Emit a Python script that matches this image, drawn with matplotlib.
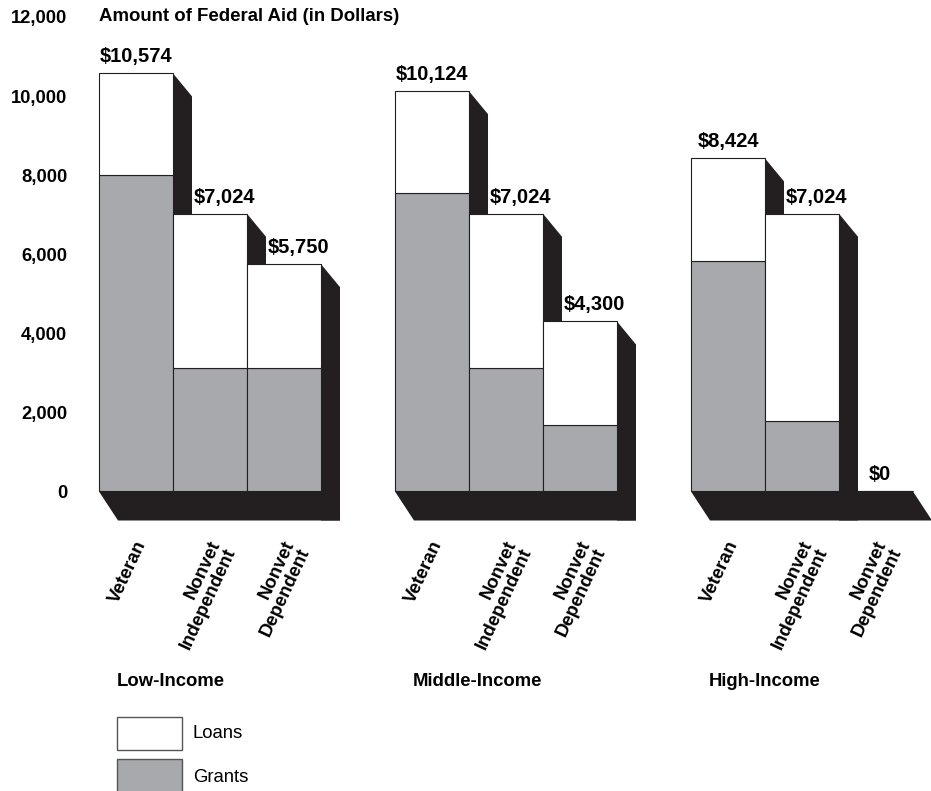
import numpy as np
import matplotlib.pyplot as plt
from matplotlib.patches import Rectangle

plt.rcParams['font.family'] = ['Liberation Sans', 'DejaVu Sans']

# ── data ────────────────────────────────────────────────────────────────
groups = ['Low-Income', 'Middle-Income', 'High-Income']
categories = ['Veteran', 'Nonvet\nIndependent', 'Nonvet\nDependent']
totals = [[10574, 7024, 5750],
          [10124, 7024, 4300],
          [8424, 7024, 0]]
grants = [[8000, 3125, 3125],
          [7550, 3125, 1680],
          [5840, 1790, 0]]
yticks = [0, 2000, 4000, 6000, 8000, 10000, 12000]

BLACK = '#231F20'
GRAY = '#A7A9AC'

# ── layout (1 x-unit = one bar width) ───────────────────────────────────
W, H, DPI = 931, 791, 100
px_x = 74.0                    # pixels per bar width
px_y = (491.5 - 17) / 12000    # pixels per dollar
dx = 19 / px_x                 # depth offset, horizontal
dz_top = 23 / px_y             # depth offset on the bar tops
dz_base = 29 / px_y            # thickness of the floor slab

fig = plt.figure(figsize=(W / DPI, H / DPI), dpi=DPI)
left_px = 72
ax = fig.add_axes([left_px / W, 0, 1 - left_px / W, 1])
ax.set_xlim((left_px - 99) / px_x, (W - 99) / px_x)
ax.set_ylim(-(H - 491.5) / px_y, 491.5 / px_y)
for s in ax.spines.values():
    s.set_visible(False)
ax.set_xticks([])
ax.set_yticks(yticks)
ax.set_yticklabels([f'{v:,}' for v in yticks], fontsize=13.2, fontweight='bold')
ax.tick_params(axis='y', length=0, pad=3.5)

ax.text(0, 12000, 'Amount of Federal Aid (in Dollars)', fontsize=13.4,
        fontweight='bold', ha='left', va='center')

for g, gname in enumerate(groups):
    x0 = 4 * g
    xs = x0 + np.arange(3) + 0.5
    tot = np.array(totals[g])
    gr = np.array(grants[g])
    loans = tot - gr

    # floor slab
    xe = x0 + 3
    ax.fill([x0, xe, xe + dx, x0 + dx], [0, 0, -dz_base, -dz_base],
            color=BLACK, lw=0, zorder=1)
    # right-hand side faces; the last standing bar runs down to the slab bottom
    last = max(i for i in range(3) if tot[i] > 0)
    for i, (x, t) in enumerate(zip(xs, tot)):
        if t <= 0:
            continue
        xr = x + 0.5
        yb = -dz_base if i == last else 0
        ax.fill([xr, xr + dx, xr + dx, xr], [t, t - dz_top, yb, yb],
                color=BLACK, lw=0, zorder=1)

    ax.bar(xs, gr, width=1, color=GRAY, edgecolor=BLACK, lw=0.8, zorder=3)
    ax.bar(xs, loans, bottom=gr, width=1, color='white', edgecolor=BLACK,
           lw=0.8, zorder=3)

    for i, (x, t) in enumerate(zip(xs, tot)):
        off = 0 if i == 0 else (0.05 if t == 0 else 0.2)
        ax.text(x + off, t + 7 / px_y, f'${t:,}', fontsize=14.5,
                fontweight='bold', ha='center', va='bottom', zorder=4)
        # slanted category names hang from their upper-right corner
        ax.text(x - 1.5 / px_x, -(538 - 491.5) / px_y, categories[i],
                fontsize=13.3, fontweight='bold', rotation=65,
                rotation_mode='anchor', ha='right', va='top',
                multialignment='right', linespacing=1.0)

    ax.text(x0 + 18 / px_x, -(681 - 491.5) / px_y, gname, fontsize=13.3,
            fontweight='bold', ha='left', va='center')

# ── legend ──────────────────────────────────────────────────────────────
bx = (117 - 99) / px_x
bw = 65 / px_x
for name, color, top, ctr in [('Loans', 'white', 717, 733),
                              ('Grants', GRAY, 759, 777)]:
    y_top = -(top - 491.5) / px_y
    ax.add_patch(Rectangle((bx, y_top - 33 / px_y), bw, 33 / px_y,
                           facecolor=color, edgecolor='#555555', lw=1.0))
    ax.text((193 - 99) / px_x, -(ctr - 491.5) / px_y, name, fontsize=13.3,
            ha='left', va='center')

fig.savefig('out.png', dpi=DPI)
